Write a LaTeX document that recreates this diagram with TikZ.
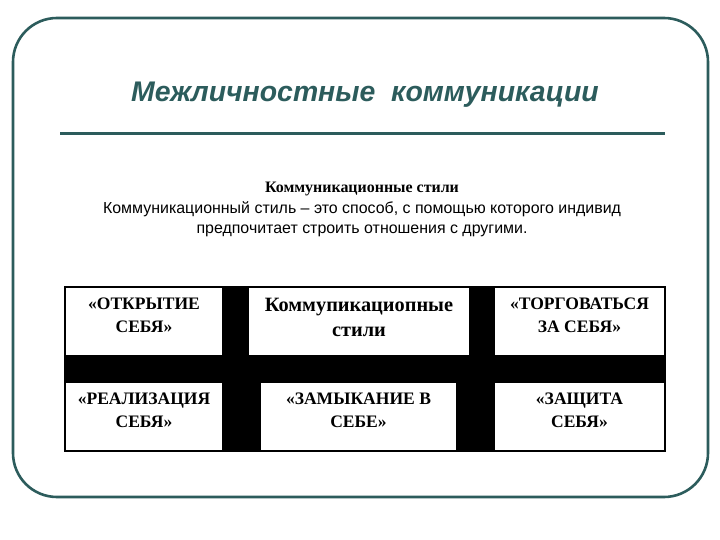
\documentclass[tikz,border=0pt]{standalone}
\usepackage{fontspec}
\setmainfont{Liberation Serif}
\setsansfont{Liberation Sans}
\usepackage{tikz}
\usetikzlibrary{positioning}
\definecolor{frameteal}{RGB}{44,92,92}

\begin{document}
\begin{tikzpicture}[x=1bp, y=-1bp,
    frame/.style={draw=frameteal, line width=2.6bp, rounded corners=44bp},
    heading/.style={font=\sffamily\bfseries\itshape\fontsize{28.5}{32}\selectfont, text=frameteal},
    rule/.style={draw=frameteal, line width=3bp},
    cell/.style={rectangle, fill=white, inner sep=0pt, align=center, text depth=12bp,
        font=\bfseries\fontsize{17.6}{23}\selectfont, minimum height=67bp}
]
\useasboundingbox[fill=white] (0,0) rectangle (720,540);

% рамка слайда
\draw[frame] (13,18) rectangle (708,497);

% заголовок
\node[heading] (title) at (365,95) {Межличностные\ \ коммуникации};
\coordinate (ruleL) at (60,134);
\coordinate (ruleR) at (665,134);
\draw[rule] (ruleL) -- (ruleR);

% пояснение
\node[font=\bfseries\fontsize{16}{18}\selectfont] (sub) at (362,189) {Коммуникационные стили};
\node[font=\sffamily\fontsize{16}{20}\selectfont, align=center, below=-1bp of sub] (defn)
    {Коммуникационный стиль – это способ, с помощью которого индивид\\
     предпочитает строить отношения с другими.};

% таблица
\node[fill=black, minimum width=602bp, minimum height=166bp, inner sep=0pt] (grid) at (365,369) {};
\node[cell, minimum width=156bp] (open) at (144,321) {«ОТКРЫТИЕ\\СЕБЯ»};
\node[cell, minimum width=220bp, text depth=8bp, font=\bfseries\fontsize{20.4}{25}\selectfont] (styles) at (359,321) {Коммупикациопные\\стили};
\node[cell, minimum width=169bp] (bargain) at (579.5,321) {«ТОРГОВАТЬСЯ\\ЗА СЕБЯ»};
\node[cell, minimum width=156bp] (realize) at (144,416.5) {«РЕАЛИЗАЦИЯ\\СЕБЯ»};
\node[cell, minimum width=195bp] (closed) at (358.5,416.5) {«ЗАМЫКАНИЕ В\\СЕБЕ»};
\node[cell, minimum width=169bp] (defend) at (579.5,416.5) {«ЗАЩИТА\\СЕБЯ»};

\end{tikzpicture}
\end{document}
